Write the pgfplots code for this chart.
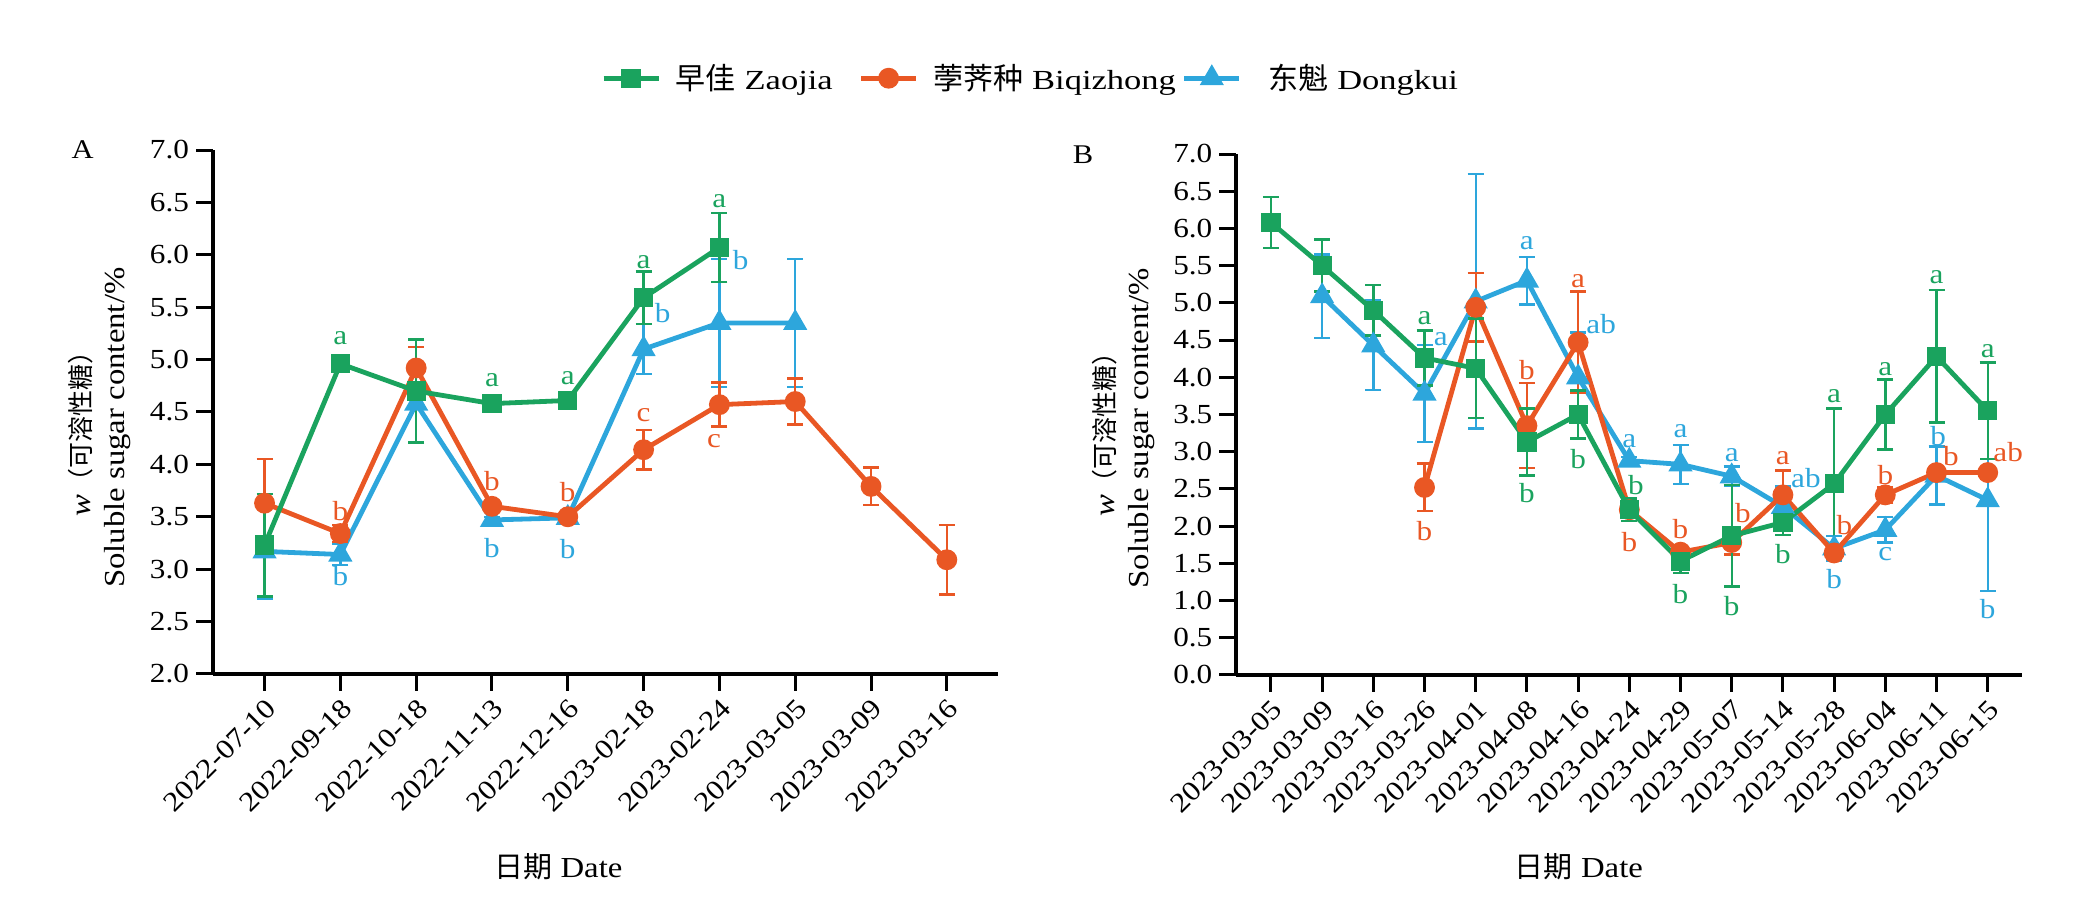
\documentclass[border=0pt]{standalone}
\usepackage{pgfplots}
\pgfplotsset{compat=1.18}
\usepackage{fontspec}
\setmainfont{Liberation Serif}
\newfontfamily\wide{Liberation Serif}[FakeStretch=1.25]
\newfontfamily\wideb{Liberation Serif}[FakeStretch=1.13]
\newfontfamily\cjk{Noto Sans CJK SC}
\definecolor{cg}{RGB}{26,163,94}
\definecolor{co}{RGB}{233,87,36}
\definecolor{cb}{RGB}{45,166,220}
\newcommand{\tickfont}{\fontsize{13.8}{15}\wideb}
\newcommand{\letfont}{\fontsize{13.8}{15}\wideb}
\newcommand{\lab}[4]{\node[text=#1, font=\letfont, inner sep=0pt] at (axis cs:#2,#3) {#4};}
\pgfplotsset{
  common/.style={
    scale only axis,
    axis x line*=bottom, axis y line*=left,
    axis line style={-, line width=1.9pt},
    tick align=outside, tick pos=left,
    major tick length=8.5pt,
    tick style={line width=1.5pt, black},
    tick label style={font=\tickfont},
    /pgf/number format/assume math mode=true,
    yticklabel style={/pgf/number format/.cd, fixed, fixed zerofill, precision=1},
    xticklabel style={rotate=45, anchor=north east, inner sep=2pt},
    clip=false,
  },
  gs/.style={color=cg, line width=2.4pt, mark=square*, mark size=3.6pt, mark options={solid}},
  os/.style={color=co, line width=2.4pt, mark=*, mark size=4pt, mark options={solid}},
  bs/.style={color=cb, line width=2.4pt, mark=triangle*, mark size=4.6pt, mark options={solid}},
  eb/.style={error bars/.cd, y dir=both, y explicit, error bar style={line width=1.2pt}, error mark options={rotate=90, mark size=4pt, line width=1.2pt}, /pgfplots/.cd},
}
\begin{document}
\begin{tikzpicture}
\path[use as bounding box] (0,0) rectangle (1046.5pt,451.5pt);
% ---------------- Panel A ----------------
\begin{axis}[common,
  at={(106.5pt,114.5pt)}, anchor=south west,
  width=392.5pt, height=262pt,
  xmin=-0.68, xmax=9.675, ymin=2, ymax=7,
  ytick={2,2.5,...,7},
  xtick={0,...,9},
  xticklabels={2022-07-10,2022-09-18,2022-10-18,2022-11-13,2022-12-16,2023-02-18,2023-02-24,2023-03-05,2023-03-09,2023-03-16},
  legend columns=3,
  legend style={at={(axis description cs:0.494,1.137)}, anchor=west, draw=none, fill=none, inner sep=0pt,
    font=\fontsize{13.8}{15}\wide, nodes={inner sep=0pt},
    /tikz/every odd column/.append style={column sep=7.5pt},
    /tikz/every even column/.append style={column sep=3pt}},
  legend image code/.code={\draw[mark repeat=2, mark phase=2, #1] plot coordinates {(0pt,0pt) (13.75pt,0pt) (27.5pt,0pt)};},
]
\addlegendimage{gs}
\addlegendentry{{\cjk\fontsize{15}{16}\selectfont 早佳} Zaojia\kern 10pt\null}
\addlegendimage{os}
\addlegendentry{{\cjk\fontsize{15}{16}\selectfont 荸荠种} Biqizhong}
\addlegendimage{bs}
\addlegendentry{\null\kern 6pt{\cjk\fontsize{15}{16}\selectfont 东魁} Dongkui}

\addplot[bs, forget plot, eb] coordinates {
(0,3.17) +- (0,0.45) (1,3.14) +- (0,0.10) (2,4.58) +- (0,0.05) (3,3.47) +- (0,0.03)
(4,3.49) +- (0,0.03) (5,5.10) +- (0,0.24) (6,5.35) +- (0,0.61) (7,5.35) +- (0,0.61)};
\addplot[os, forget plot, eb] coordinates {
(0,3.63) +- (0,0.42) (1,3.34) +- (0,0.08) (2,4.92) +- (0,0.20) (3,3.60) +- (0,0.03)
(4,3.50) +- (0,0.05) (5,4.14) +- (0,0.19) (6,4.57) +- (0,0.21) (7,4.60) +- (0,0.22)
(8,3.79) +- (0,0.18) (9,3.09) +- (0,0.33)};
\addplot[gs, forget plot, eb] coordinates {
(0,3.23) +- (0,0.49) (1,4.96) +- (0,0.04) (2,4.70) +- (0,0.49) (3,4.58) +- (0,0.06)
(4,4.61) +- (0,0.05) (5,5.59) +- (0,0.25) (6,6.07) +- (0,0.33)};

\lab{cg}{1}{5.20}{a} \lab{co}{1}{3.55}{b} \lab{cb}{1}{2.93}{b}
\lab{cg}{3}{4.80}{a} \lab{co}{3}{3.84}{b} \lab{cb}{3}{3.20}{b}
\lab{cg}{4}{4.82}{a} \lab{co}{4}{3.74}{b} \lab{cb}{4}{3.19}{b}
\lab{cg}{5}{5.93}{a} \lab{cb}{5.25}{5.44}{b} \lab{co}{5}{4.47}{c}
\lab{cg}{6}{6.51}{a} \lab{cb}{6.28}{5.95}{b} \lab{co}{5.93}{4.22}{c}

\node[font=\fontsize{13.5}{14}\wideb] at (axis description cs:-0.166,1.0) {A};
\node[rotate=90, align=center, font=\fontsize{14.5}{17}\wideb] at (axis description cs:-0.144,0.47)
  {\textit{w}{\cjk\fontsize{13}{15}\selectfont （可溶性糖）}\\Soluble sugar content/\%};
\node[font=\fontsize{14.5}{15}\wideb] at (axis description cs:0.44,-0.368) {{\cjk\fontsize{14.5}{15}\selectfont 日期} Date};
\end{axis}
% ---------------- Panel B ----------------
\begin{axis}[common,
  at={(618.15pt,114pt)}, anchor=south west,
  width=392.85pt, height=260.5pt,
  xmin=-0.676, xmax=14.67, ymin=0, ymax=7,
  ytick={0,0.5,...,7},
  xtick={0,...,14},
  xticklabels={2023-03-05,2023-03-09,2023-03-16,2023-03-26,2023-04-01,2023-04-08,2023-04-16,2023-04-24,2023-04-29,2023-05-07,2023-05-14,2023-05-28,2023-06-04,2023-06-11,2023-06-15},
]
\addplot[bs, eb] coordinates {
(1,5.09) +- (0,0.56) (2,4.43) +- (0,0.60) (3,3.78) +- (0,0.65) (4,5.02) +- (0,1.71)
(5,5.30) +- (0,0.32) (6,4.00) +- (0,0.60) (7,2.88) +- (0,0.05) (8,2.83) +- (0,0.26)
(9,2.67) +- (0,0.13) (10,2.26) +- (0,0.27) (11,1.70) +- (0,0.17) (12,1.95) +- (0,0.17)
(13,2.68) +- (0,0.39) (14,2.35) +- (0,1.22)};
\addplot[os, eb] coordinates {
(3,2.52) +- (0,0.32) (4,4.94) +- (0,0.46) (5,3.35) +- (0,0.57) (6,4.47) +- (0,0.68)
(7,2.22) +- (0,0.15) (8,1.65) +- (0,0.05) (9,1.78) +- (0,0.16) (10,2.42) +- (0,0.33)
(11,1.64) +- (0,0.06) (12,2.42) +- (0,0.10) (13,2.72) +- (0,0.05) (14,2.72) +- (0,0.05)};
\addplot[gs, eb] coordinates {
(0,6.08) +- (0,0.34) (1,5.50) +- (0,0.35) (2,4.90) +- (0,0.34) (3,4.26) +- (0,0.37)
(4,4.12) +- (0,0.67) (5,3.13) +- (0,0.45) (6,3.50) +- (0,0.32) (7,2.22) +- (0,0.15)
(8,1.53) +- (0,0.16) (9,1.87) +- (0,0.68) (10,2.05) +- (0,0.17) (11,2.57) +- (0,1.01)
(12,3.50) +- (0,0.47) (13,4.28) +- (0,0.89) (14,3.55) +- (0,0.65)};

\lab{cg}{3}{4.80}{a} \lab{cb}{3.32}{4.51}{a} \lab{co}{3}{1.93}{b}
\lab{cb}{5}{5.80}{a} \lab{co}{5}{4.10}{b} \lab{cg}{5}{2.45}{b}
\lab{co}{6}{5.29}{a} \lab{cb}{6.45}{4.71}{ab} \lab{cg}{6}{2.90}{b}
\lab{cb}{7}{3.14}{a} \lab{cg}{7.13}{2.55}{b} \lab{co}{7}{1.78}{b}
\lab{cb}{8}{3.27}{a} \lab{co}{8}{1.96}{b} \lab{cg}{8}{1.09}{b}
\lab{cb}{9}{2.96}{a} \lab{co}{9.22}{2.18}{b} \lab{cg}{9}{0.93}{b}
\lab{co}{10}{2.92}{a} \lab{cb}{10.45}{2.65}{ab} \lab{cg}{10}{1.63}{b}
\lab{cg}{11}{3.74}{a} \lab{co}{11.2}{2.02}{b} \lab{cb}{11}{1.29}{b}
\lab{cg}{12}{4.11}{a} \lab{co}{12}{2.69}{b} \lab{cb}{12}{1.62}{c}
\lab{cg}{13}{5.35}{a} \lab{cb}{13.03}{3.21}{b} \lab{co}{13.28}{2.94}{b}
\lab{cg}{14}{4.35}{a} \lab{co}{14.4}{3.00}{ab} \lab{cb}{14}{0.88}{b}

\node[font=\fontsize{13.5}{14}\wideb] at (axis description cs:-0.195,0.998) {B};
\node[rotate=90, align=center, font=\fontsize{14.5}{17}\wideb] at (axis description cs:-0.144,0.474)
  {\textit{w}{\cjk\fontsize{13}{15}\selectfont （可溶性糖）}\\Soluble sugar content/\%};
\node[font=\fontsize{14.5}{15}\wideb] at (axis description cs:0.436,-0.3685) {{\cjk\fontsize{14.5}{15}\selectfont 日期} Date};
\end{axis}
\end{tikzpicture}
\end{document}
